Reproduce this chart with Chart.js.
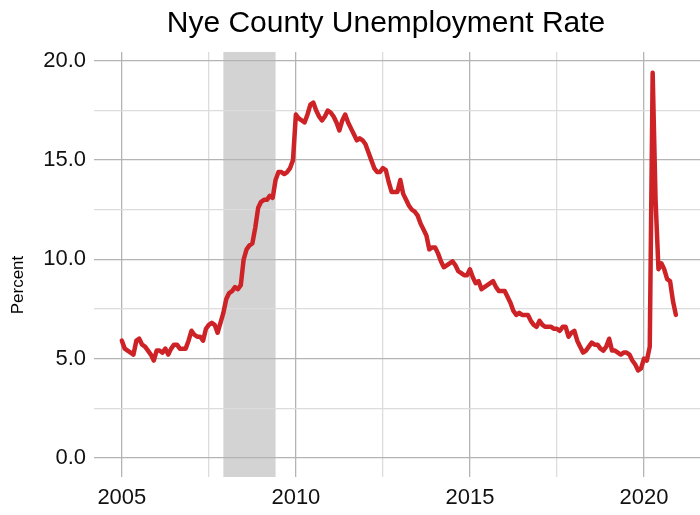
<!DOCTYPE html>
<html>
<head>
<meta charset="utf-8">
<title>Nye County Unemployment Rate</title>
<script src="https://cdn.jsdelivr.net/npm/chart.js@4.4.1/dist/chart.umd.min.js"></script>
<style>
  html, body { margin: 0; padding: 0; background: #fff; }
  #wrap { width: 700px; height: 515px; }
</style>
</head>
<body>
<div id="wrap"><canvas id="nye-chart"></canvas></div>
<script>
// Monthly unemployment rate (%), Jan 2005 .. Dec 2020
const startYear = 2005;
const rate2005 = [5.9, 5.5, 5.4, 5.3, 5.2, 5.9, 6.0, 5.7, 5.6, 5.4, 5.2, 4.9];
const rate2006 = [5.4, 5.4, 5.3, 5.5, 5.2, 5.5, 5.7, 5.7, 5.5, 5.5, 5.5, 5.9];
const rate2007 = [6.4, 6.2, 6.1, 6.1, 5.9, 6.5, 6.7, 6.8, 6.7, 6.3, 6.8, 7.3];
const rate2008 = [8.0, 8.3, 8.4, 8.6, 8.5, 8.7, 10.0, 10.5, 10.7, 10.8, 11.6, 12.6];
const rate2009 = [12.9, 13.0, 13.0, 13.2, 13.1, 14.0, 14.4, 14.4, 14.3, 14.4, 14.6, 15.0];
const rate2010 = [17.3, 17.1, 17.0, 16.9, 17.3, 17.8, 17.9, 17.5, 17.2, 17.0, 17.2, 17.5];
const rate2011 = [17.4, 17.2, 16.9, 16.5, 17.0, 17.3, 16.9, 16.6, 16.3, 16.0, 16.1, 16.0];
const rate2012 = [15.8, 15.4, 15.0, 14.6, 14.4, 14.4, 14.6, 14.5, 13.9, 13.4, 13.4, 13.4];
const rate2013 = [14.0, 13.3, 13.0, 12.7, 12.5, 12.4, 12.2, 11.8, 11.5, 11.2, 10.5, 10.6];
const rate2014 = [10.6, 10.3, 9.9, 9.6, 9.7, 9.8, 9.9, 9.7, 9.4, 9.3, 9.2, 9.2];
const rate2015 = [9.5, 9.1, 8.8, 8.9, 8.5, 8.6, 8.7, 8.8, 8.9, 8.6, 8.4, 8.4];
const rate2016 = [8.4, 8.1, 7.8, 7.4, 7.2, 7.3, 7.2, 7.2, 7.2, 6.9, 6.7, 6.6];
const rate2017 = [6.9, 6.7, 6.6, 6.6, 6.6, 6.5, 6.5, 6.4, 6.6, 6.6, 6.1, 6.3];
const rate2018 = [6.4, 5.9, 5.6, 5.3, 5.4, 5.6, 5.8, 5.7, 5.7, 5.5, 5.4, 5.6];
const rate2019 = [6.0, 5.4, 5.4, 5.3, 5.2, 5.3, 5.3, 5.2, 4.9, 4.7, 4.4, 4.5];
const rate2020 = [5.0, 4.9, 5.6, 19.4, 13.0, 9.5, 9.8, 9.5, 9.0, 8.9, 7.9, 7.2];

const monthlyRate = [].concat(rate2005, rate2006, rate2007, rate2008, rate2009,
  rate2010, rate2011, rate2012, rate2013, rate2014, rate2015, rate2016,
  rate2017, rate2018, rate2019, rate2020);

// Great Recession, Dec 2007 .. Jun 2009 (decimal years)
const recession = [2007 + 11 / 12, 2009 + 5 / 12];

// axis ticks: labelled majors, unlabelled minors in between
const xTicks = [2005, 2007.5, 2010, 2012.5, 2015, 2017.5, 2020];
const xLabels = ['2005', '', '2010', '', '2015', '', '2020'];
const yTicks = [0, 2.5, 5, 7.5, 10, 12.5, 15, 17.5, 20];
const yLabels = ['0.0', '', '5.0', '', '10.0', '', '15.0', '', '20.0'];

const points = monthlyRate.map((v, i) => ({ x: startYear + i / 12, y: v }));

const FONT = '"Liberation Sans", Arial, sans-serif';
const MAJOR = '#b4b4b4';
const MINOR = '#dcdcdc';

function gridColor(ticks) {
  return ctx => (ctx.tick && ctx.tick.value % 5 === 0) ? MAJOR : MINOR;
}

const recessionShade = {
  id: 'recessionShade',
  beforeDraw(chart) {
    const { ctx, chartArea, scales } = chart;
    const x0 = scales.x.getPixelForValue(recession[0]);
    const x1 = scales.x.getPixelForValue(recession[1]);
    ctx.save();
    ctx.fillStyle = '#d3d3d3';
    ctx.fillRect(x0, chartArea.top, x1 - x0, chartArea.bottom - chartArea.top);
    ctx.restore();
  }
};

const headings = {
  id: 'headings',
  afterDraw(chart) {
    const ctx = chart.ctx;
    ctx.save();
    ctx.fillStyle = '#000';
    ctx.textAlign = 'center';
    ctx.textBaseline = 'middle';
    ctx.font = '30px ' + FONT;
    ctx.fillText('Nye County Unemployment Rate', 386, 24);
    ctx.translate(18, 285);
    ctx.rotate(-Math.PI / 2);
    ctx.font = '17px ' + FONT;
    ctx.fillText('Percent', 0, 0);
    ctx.restore();
  }
};

new Chart(document.getElementById('nye-chart').getContext('2d'), {
  type: 'line',
  data: {
    datasets: [{
      label: 'Unemployment rate',
      data: points,
      borderColor: '#cd2327',
      borderWidth: 4.5,
      borderJoinStyle: 'round',
      borderCapStyle: 'round',
      pointRadius: 0,
      tension: 0,
      fill: false
    }]
  },
  options: {
    responsive: true,
    maintainAspectRatio: false,
    animation: false,
    layout: { padding: { top: 52, left: 0, right: 0, bottom: 0 } },
    plugins: {
      legend: { display: false },
      title: { display: false },
      tooltip: { enabled: false }
    },
    scales: {
      x: {
        type: 'linear',
        min: 2004.2,
        max: 2021.61,
        afterBuildTicks: s => { s.ticks = xTicks.map(v => ({ value: v })); },
        afterFit: s => { s.height = 38; },
        border: { display: false },
        grid: { color: gridColor(), lineWidth: 1.3, drawTicks: false },
        ticks: {
          padding: 8,
          autoSkip: false,
          maxRotation: 0,
          color: '#111',
          font: { family: FONT, size: 22 },
          callback: (v, i) => xLabels[i]
        }
      },
      y: {
        min: -0.97,
        max: 20.45,
        afterBuildTicks: s => { s.ticks = yTicks.map(v => ({ value: v })); },
        afterFit: s => { s.width = 94; },
        border: { display: false },
        grid: { color: gridColor(), lineWidth: 1.3, drawTicks: false },
        ticks: {
          padding: 8,
          color: '#111',
          font: { family: FONT, size: 22 },
          callback: (v, i) => yLabels[i]
        }
      }
    }
  },
  plugins: [recessionShade, headings]
});
</script>
</body>
</html>
